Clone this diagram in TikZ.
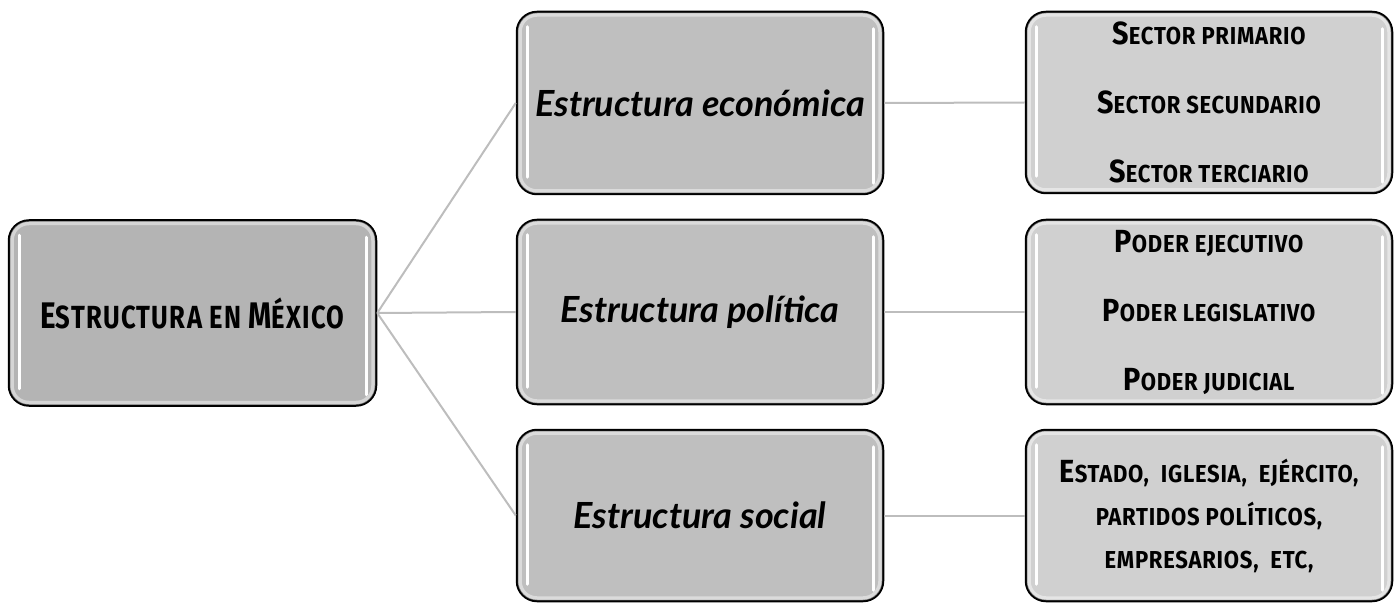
\documentclass[tikz,border=0pt]{standalone}
\usepackage{fontspec}
\setmainfont{Fira Sans}
\newfontfamily\rootfont[FakeStretch=0.8,LetterSpace=4]{Fira Sans}
\newfontfamily\leaffont[FakeStretch=0.9,LetterSpace=3]{Fira Sans}
\newfontfamily\handfont{Lato}
\usetikzlibrary{calc}
\definecolor{rootgray}{HTML}{B4B4B4}
\definecolor{midgray}{HTML}{BFBFBF}
\definecolor{rightgray}{HTML}{D0D0D0}
\definecolor{linkgray}{HTML}{BDBDBD}
\newcommand\rsmc[2]{{\fontsize{37}{37}\selectfont #1}{\fontsize{32}{32}\selectfont\MakeUppercase{#2}}}
\newcommand\lsmc[2]{{\fontsize{32}{32}\selectfont #1}{\fontsize{24.5}{24.5}\selectfont\MakeUppercase{#2}}}
\tikzset{
  box/.style={draw=black, line width=2.5pt, rounded corners=20pt, minimum width=366pt, inner sep=0pt, align=center, text=black},
  rootbox/.style={box, fill=rootgray, minimum width=367pt, font=\rootfont\bfseries\fontsize{32}{40}\selectfont},
  midbox/.style={box, fill=midgray, font=\handfont\bfseries\itshape\fontsize{36}{40}\selectfont},
  rightbox/.style={box, fill=rightgray, font=\leaffont\bfseries\fontsize{24.5}{69}\selectfont},
  denselines/.style={font=\leaffont\bfseries\fontsize{24.5}{43}\selectfont},
  link/.style={draw=linkgray, line width=2pt},
  hl/.style={draw=white, line width=3pt, line cap=round},
  glow/.style={draw=white, draw opacity=0.45, line width=4pt, rounded corners=17pt},
}
\newcommand\glossy[1]{%
  \draw[glow] ($(#1.north west)+(4,4)$) rectangle ($(#1.south east)+(-4,-4)$);
  \draw[hl] ($(#1.north west)+(12,16)$) -- ($(#1.south west)+(12,-18)$);
  \draw[hl] ($(#1.north east)+(-11,18)$) -- ($(#1.south east)+(-11,-12)$);
}
\begin{document}
\begin{tikzpicture}[x=1pt,y=-1pt]
\useasboundingbox (0,0) rectangle (1397,612);
% nodes
\node[rootbox, minimum height=185pt] (root) at (192.5,313) {\rsmc{E}{structura en}\ \rsmc{M}{éxico}};
\node[midbox, minimum height=182pt] (eco) at (700,103) {Estructura económica};
\node[midbox, minimum height=184pt] (pol) at (700,312) {Estructura política};
\node[midbox, minimum height=171pt] (soc) at (700,515.5) {Estructura social};
\node[rightbox, minimum height=181pt] (sec) at (1209,102.5) {\lsmc{S}{ector primario}\\ \lsmc{S}{ector secundario}\\ \lsmc{S}{ector terciario}};
\node[rightbox, minimum height=184pt] (pod) at (1209,312) {\lsmc{P}{oder ejecutivo}\\ \lsmc{P}{oder legislativo}\\ \lsmc{P}{oder judicial}};
\node[rightbox, denselines, minimum height=171pt] (act) at (1209,515.5) {\lsmc{E}{stado,\ \ iglesia,\ \ ejército,}\\ \lsmc{}{partidos políticos,}\\ \lsmc{}{empresarios,\ \ etc,}};
\foreach \n in {root,eco,pol,soc,sec,pod,act} {\glossy{\n}}
% connectors
\draw[link] (root.east) -- (eco.west);
\draw[link] (root.east) -- (pol.west);
\draw[link] (root.east) -- (soc.west);
\draw[link] (eco.east) -- (sec.west);
\draw[link] (pol.east) -- (pod.west);
\draw[link] (soc.east) -- (act.west);
\end{tikzpicture}
\end{document}
